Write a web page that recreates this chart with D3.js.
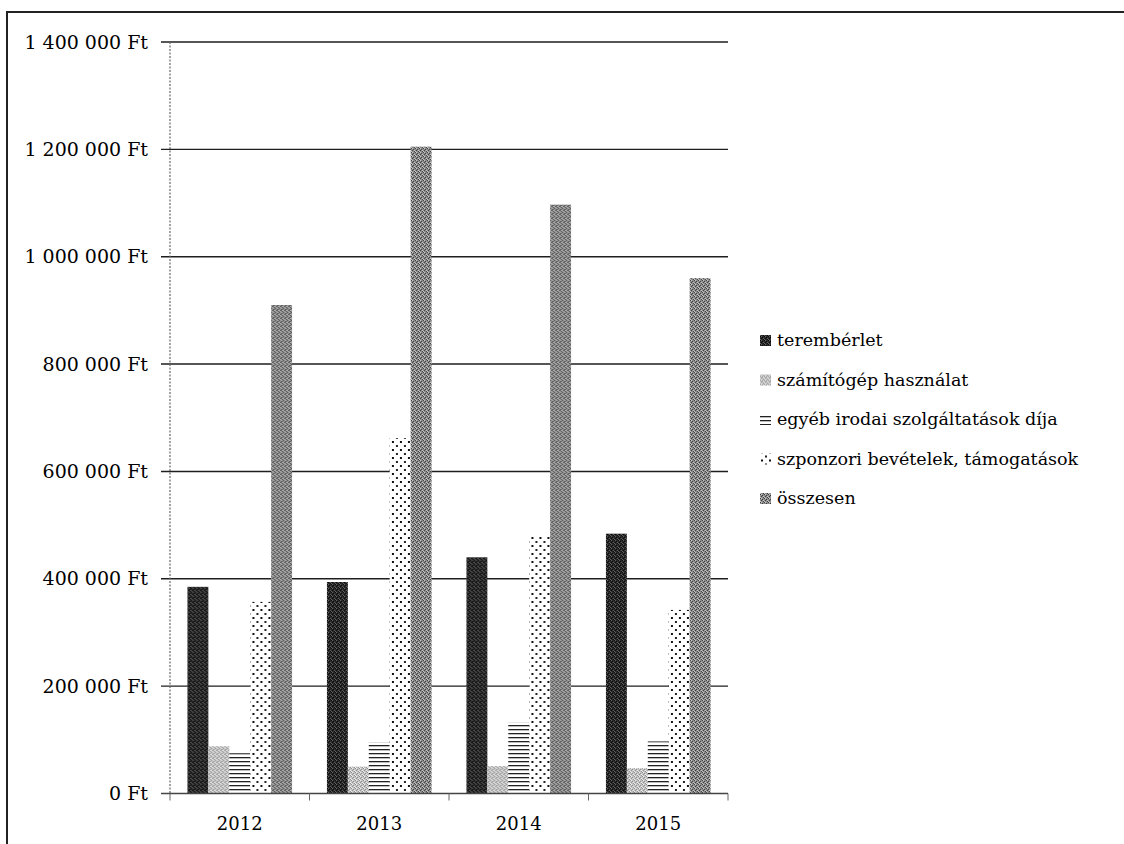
<!DOCTYPE html>
<html>
<head>
<meta charset="utf-8">
<title>Bevételek és költségek</title>
<style>
  body { margin: 0; background: #fff; }
  svg text { font-family: "DejaVu Serif", "Liberation Serif", serif; fill: #000; }
</style>
<script src="https://d3js.org/d3.v7.min.js"></script>
</head>
<body>
<script>

// data
const years = ["2012", "2013", "2014", "2015"];
const seriesNames = [
  "terembérlet",
  "számítógép használat",
  "egyéb irodai szolgáltatások díja",
  "szponzori bevételek, támogatások",
  "összesen"
];
const terembérlet = [385000, 394000, 440000, 484000];
const szamitogep = [88000, 50000, 51000, 47000];
const egyeb = [75000, 95000, 132000, 97000];
const szponzori = [357000, 662000, 478000, 342000];
const osszesen = [910000, 1205000, 1097000, 960000];
const yTicks = [0, 200000, 400000, 600000, 800000, 1000000, 1200000, 1400000];

const seriesValues = [terembérlet, szamitogep, egyeb, szponzori, osszesen];
const patternIds = ["pDark", "pLight", "pLines", "pDots", "pMid"];

const W = 1124, H = 844;
const plot = {left: 170, right: 728, top: 42, bottom: 793.5};

let svg = d3.select("body").append("svg")
  .attr("width", W)
  .attr("height", H)
;

// scan-like fill patterns
let defs = svg.append("defs");

function ditherPattern(id, base, dark, light) {
  let p = defs.append("pattern")
    .attr("id", id)
    .attr("patternUnits", "userSpaceOnUse")
    .attr("width", 4)
    .attr("height", 4);
  p.append("rect").attr("width", 4).attr("height", 4).attr("fill", base);
  [[0,0],[2,1],[1,2],[3,3]].forEach(([x,y]) => p.append("rect").attr("x", x).attr("y", y).attr("width", 1).attr("height", 1).attr("fill", dark));
  [[1,0],[3,2],[0,3]].forEach(([x,y]) => p.append("rect").attr("x", x).attr("y", y).attr("width", 1).attr("height", 1).attr("fill", light));
}
ditherPattern("pDark", "#2a2a2a", "#080808", "#626262");
ditherPattern("pLight", "#c6c6c6", "#8a8a8a", "#eeeeee");
ditherPattern("pMid", "#8e8e8e", "#3c3c3c", "#c8c8c8");

let lines = defs.append("pattern")
  .attr("id", "pLines")
  .attr("patternUnits", "userSpaceOnUse")
  .attr("width", 6)
  .attr("height", 4);
lines.append("rect").attr("width", 6).attr("height", 4).attr("fill", "#fff");
lines.append("rect").attr("y", 1).attr("width", 6).attr("height", 1.3).attr("fill", "#222");

let dots = defs.append("pattern")
  .attr("id", "pDots")
  .attr("patternUnits", "userSpaceOnUse")
  .attr("width", 8)
  .attr("height", 8);
dots.append("rect").attr("width", 8).attr("height", 8).attr("fill", "#fff");
dots.append("rect").attr("x", 1).attr("y", 1).attr("width", 2).attr("height", 2).attr("fill", "#111");
dots.append("rect").attr("x", 5).attr("y", 5).attr("width", 2).attr("height", 2).attr("fill", "#222");

// outer frame of the scanned page
svg.append("path")
  .attr("d", "M7," + H + "V12H" + W)
  .attr("fill", "none")
  .attr("stroke", "#222")
  .attr("stroke-width", 2)
;

let x = d3.scaleBand().domain(years).range([plot.left, plot.right]).paddingInner(0.25).paddingOuter(0.125);
let xInner = d3.scaleBand().domain(d3.range(seriesNames.length)).range([0, x.bandwidth()]);
let y = d3.scaleLinear().domain([0, 1400000]).range([plot.bottom, plot.top]);

let huLocale = d3.formatLocale({decimal: ",", thousands: "\u00a0", grouping: [3], currency: ["", " Ft"]});
let fmt = huLocale.format("$,");

// gridlines + y labels
let yAxis = svg.append("g").attr("class", "y-axis");
yAxis.selectAll("line.grid").data(yTicks.slice(1)).enter().append("line")
  .attr("class", "grid")
  .attr("x1", plot.left - 9)
  .attr("x2", plot.right)
  .attr("y1", d => y(d))
  .attr("y2", d => y(d))
  .attr("stroke", "#1e1e1e")
  .attr("stroke-width", 1.4)
;
yAxis.selectAll("text").data(yTicks).enter().append("text")
  .attr("x", 148)
  .attr("y", d => y(d))
  .attr("dy", "0.35em")
  .attr("text-anchor", "end")
  .attr("font-size", 19)
  .text(d => fmt(d))
;
yAxis.append("line")
  .attr("x1", plot.left).attr("x2", plot.left)
  .attr("y1", plot.top).attr("y2", plot.bottom)
  .attr("stroke", "#666")
  .attr("stroke-width", 1.2)
  .attr("stroke-dasharray", "2,1.5")
;

// bars
let groups = svg.selectAll("g.year").data(years).enter().append("g")
  .attr("class", "year")
  .attr("transform", d => "translate(" + x(d) + ",0)")
;
groups.selectAll("rect").data((d, i) => seriesValues.map((vals, s) => ({series: s, value: vals[i]}))).enter().append("rect")
  .attr("x", d => xInner(d.series))
  .attr("width", xInner.bandwidth())
  .attr("y", d => y(d.value))
  .attr("height", d => y(0) - y(d.value))
  .attr("fill", d => "url(#" + patternIds[d.series] + ")")
;

// x axis
svg.append("line")
  .attr("x1", plot.left - 9).attr("x2", plot.right)
  .attr("y1", plot.bottom).attr("y2", plot.bottom)
  .attr("stroke", "#444")
  .attr("stroke-width", 1.4)
;
let bounds = years.map(d => x(d) - x.step() * x.paddingInner() / 2).concat([plot.right]);
svg.selectAll("line.xtick").data(bounds).enter().append("line")
  .attr("class", "xtick")
  .attr("x1", d => d).attr("x2", d => d)
  .attr("y1", plot.bottom).attr("y2", plot.bottom + 7)
  .attr("stroke", "#666")
  .attr("stroke-width", 1)
;
svg.selectAll("text.xlabel").data(years).enter().append("text")
  .attr("class", "xlabel")
  .attr("x", d => x(d) + x.bandwidth() / 2)
  .attr("y", 830)
  .attr("text-anchor", "middle")
  .attr("font-size", 18)
  .text(d => d)
;

// legend
let legend = svg.selectAll("g.legend").data(seriesNames).enter().append("g")
  .attr("class", "legend")
  .attr("transform", (d, i) => "translate(760," + (340 + i * 39.5) + ")")
;
legend.append("rect")
  .attr("x", 0)
  .attr("y", -5)
  .attr("width", 11)
  .attr("height", 11)
  .attr("fill", (d, i) => "url(#" + patternIds[i] + ")")
;
legend.append("text")
  .attr("x", 17)
  .attr("dy", "0.35em")
  .attr("font-size", 17.5)
  .text(d => d)
;

</script>
</body>
</html>
